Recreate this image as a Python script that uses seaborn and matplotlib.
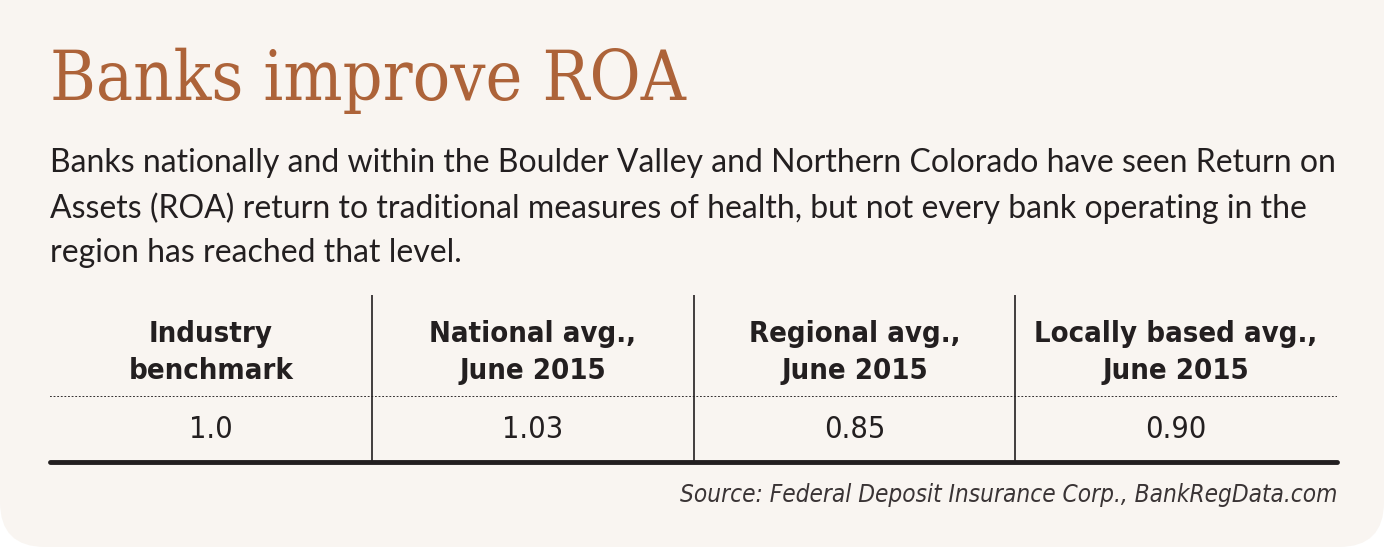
import numpy as np
import pandas as pd
import matplotlib.pyplot as plt
import seaborn as sns
from matplotlib.colors import ListedColormap
from matplotlib.patches import FancyBboxPatch

# table content
headers = ["Industry\nbenchmark", "National avg.,\nJune 2015",
           "Regional avg.,\nJune 2015", "Locally based avg.,\nJune 2015"]
roa_values = [1.0, 1.03, 0.85, 0.90]
value_labels = ["1.0", "1.03", "0.85", "0.90"]

title = "Banks improve ROA"
subtitle = ("Banks nationally and within the Boulder Valley and Northern Colorado have seen Return on\n"
            "Assets (ROA) return to traditional measures of health, but not every bank operating in the\n"
            "region has reached that level.")
source = "Source: Federal Deposit Insurance Corp., BankRegData.com"

BG = "#f9f5f1"
RUST = "#ad6339"
INK = "#231f20"

sns.set_theme(style="white")
plt.rcParams["font.family"] = ["Lato", "DejaVu Sans"]

W, H = 1384, 547
fig = plt.figure(figsize=(W / 100, H / 100), dpi=100)
fig.patch.set_facecolor("white")

# background card in pixel coordinates, rounded at the bottom
bg_ax = fig.add_axes([0, 0, 1, 1], zorder=-1)
bg_ax.set_xlim(0, W)
bg_ax.set_ylim(H, 0)
bg_ax.axis("off")
bg_ax.add_patch(FancyBboxPatch((0, -100), W, H + 100, boxstyle="round,pad=0,rounding_size=45",
                               facecolor=BG, edgecolor="none"))

fig.text(50 / W, 1 - 100 / H, title, family="DejaVu Serif", stretch="condensed",
         fontsize=50, color=RUST, ha="left", va="baseline")
fig.text(50 / W, 1 - 148 / H, subtitle, fontsize=23, color=INK, ha="left", va="top",
         linespacing=1.58)

# value row of the table
ax = fig.add_axes([50 / W, (H - 462) / H, 1287 / W, 66 / H])
df = pd.DataFrame([roa_values], columns=headers)
sns.heatmap(df, ax=ax, annot=np.array([value_labels]), fmt="",
            cmap=ListedColormap([BG]), cbar=False, yticklabels=False,
            annot_kws=dict(fontsize=22, color=INK, family="DejaVu Sans",
                           stretch="condensed", weight="light"))
ax.xaxis.tick_top()
ax.set_xticklabels(headers, fontsize=21, fontweight="bold", color=INK,
                   family="DejaVu Sans", stretch="condensed", linespacing=1.42, rotation=0)
ax.tick_params(axis="x", length=0, pad=8)
ax.set_xlabel("")

ax.axhline(0, color=INK, lw=1.3, ls=(0, (1, 1)))
ax.axhline(1, color=INK, lw=3.5, clip_on=False)
ax.vlines([1, 2, 3], -1.53, 1, color=INK, lw=1.2, clip_on=False)

fig.text(1337 / W, 1 - 495 / H, source, fontsize=17.5, style="italic", color="#3a3435",
         ha="right", va="center", family="DejaVu Sans", stretch="condensed")

fig.savefig("out.png", dpi=100, facecolor=fig.get_facecolor())
